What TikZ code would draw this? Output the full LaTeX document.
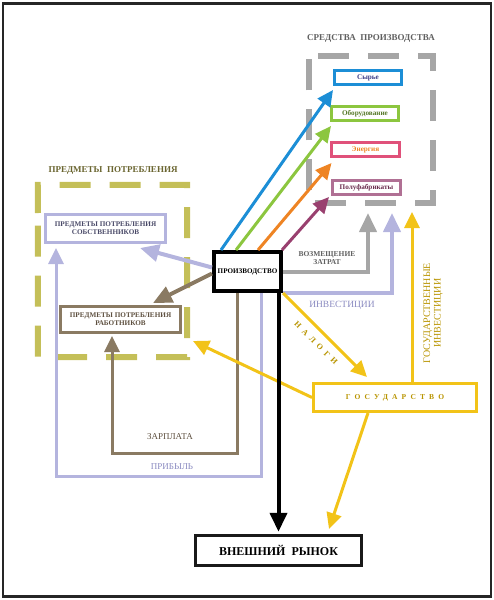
\documentclass[tikz,border=0pt]{standalone}
\usepackage{fontspec}
\setmainfont{Liberation Serif}
\newfontfamily\widefont[LetterSpace=55]{Liberation Serif}
\usetikzlibrary{arrows.meta,calc}
\definecolor{blueA}{HTML}{1C8ED6}
\definecolor{greenA}{HTML}{8CC63F}
\definecolor{orangeA}{HTML}{EE8424}
\definecolor{pinkA}{HTML}{E0517A}
\definecolor{purpleA}{HTML}{99406F}
\definecolor{mauveA}{HTML}{B07094}
\definecolor{greyA}{HTML}{A6A6A6}
\definecolor{lavA}{HTML}{B4B4DE}
\definecolor{yellowA}{HTML}{F2C318}
\definecolor{brownA}{HTML}{8A7A62}
\definecolor{oliveA}{HTML}{C4BF58}
\definecolor{txtgold}{HTML}{B89400}
\definecolor{txtlav}{HTML}{8A8AC0}
\definecolor{txtbrown}{HTML}{5E5040}
\definecolor{txtgrey}{HTML}{606060}
\definecolor{txtolive}{HTML}{6A6530}
\definecolor{txtslate}{HTML}{4A4A68}
\tikzset{
  box/.style={draw, line width=3pt, inner sep=0pt, align=center, font=\bfseries\fontsize{7.2}{8}\selectfont},
  grp/.style={line width=6pt, dash pattern=on 31pt off 19pt},
  conn/.style={line width=3pt, -{Triangle[length=16pt,width=15pt]}},
  wconn/.style={line width=4pt, -{Triangle[length=19pt,width=17pt]}},
  lbl/.style={inner sep=0pt, align=center}
}
\begin{document}
\begin{tikzpicture}[x=1pt,y=-1pt]
\useasboundingbox (0,0) rectangle (494,600);
\draw[line width=2.5pt, color=black!85] (3,3.5) rectangle (491,596.5);

% groups
\node[inner sep=0pt, minimum width=124pt, minimum height=147pt] (mp) at (371,129.5) {};
\draw[grp, greyA, dash phase=41pt] (mp.north west) -- (mp.north east) -- (mp.south east) -- (mp.south west) -- cycle;
\node[lbl, font=\bfseries\fontsize{9}{10}\selectfont, text=txtgrey] (mpt) at (371,38) {СРЕДСТВА\ \ ПРОИЗВОДСТВА};
\node[inner sep=0pt, minimum width=149pt, minimum height=172pt] (pp) at (112.5,271) {};
\coordinate (ppstart) at (38,213);
\draw[grp, oliveA] (ppstart) -- (pp.north west) -- (pp.north east) -- (pp.south east) -- (pp.south west) -- cycle;
\node[lbl, font=\bfseries\fontsize{9}{10}\selectfont, text=txtolive] (ppt) at (113,170) {ПРЕДМЕТЫ\ \ ПОТРЕБЛЕНИЯ};

% boxes
\node[box, draw=blueA, text=txtslate!80!blue, minimum width=67pt, minimum height=14pt] (syr) at (368,77.5) {Сырье};
\node[box, draw=greenA, text=greenA!60!black, minimum width=67pt, minimum height=14pt] (obor) at (365,113.5) {Оборудование};
\node[box, draw=pinkA, text=orangeA, minimum width=68pt, minimum height=14pt] (energ) at (365.5,149.5) {Энергия};
\node[box, draw=mauveA, text=purpleA!70!black, minimum width=68pt, minimum height=14pt] (polu) at (366.5,187.5) {Полуфабрикаты};
\node[box, draw=black, line width=4pt, minimum width=67pt, minimum height=39pt, font=\bfseries\fontsize{7.1}{8}\selectfont] (prod) at (247.5,271.5) {ПРОИЗВОДСТВО};
\node[box, draw=lavA, text=txtslate, minimum width=120pt, minimum height=28pt] (sobst) at (105.5,228.5) {ПРЕДМЕТЫ\ ПОТРЕБЛЕНИЯ\\СОБСТВЕННИКОВ};
\node[box, draw=brownA, text=txtbrown, minimum width=120pt, minimum height=26pt] (rabot) at (120.5,319.5) {ПРЕДМЕТЫ\ ПОТРЕБЛЕНИЯ\\РАБОТНИКОВ};
\node[box, draw=yellowA, text=txtgold, minimum width=163pt, minimum height=28pt, font=\bfseries\widefont\fontsize{7.5}{9}\selectfont] (gos) at (395,397.5) {ГОСУДАРСТВО};
\node[box, draw=black!90, line width=3.5pt, minimum width=166pt, minimum height=30pt, font=\bfseries\fontsize{12}{14}\selectfont] (rynok) at (278.5,550.5) {ВНЕШНИЙ\ \ РЫНОК};

% arrow ends
\coordinate (tz) at (368,213);
\coordinate (ti) at (392,213);
\coordinate (tg) at (412,212);
\coordinate (tn) at (367,377);
\coordinate (tr) at (193,341);
\coordinate (ts) at (140,248);
\coordinate (tw) at (153,303);
\coordinate (tm) at (329,529);
\coordinate (zc) at (112,453);
\coordinate (pc) at (56,476);

% arrows to means of production
\draw[conn, blueA] ([xshift=9pt]prod.north west) -- ([yshift=-4pt]syr.south west);
\draw[conn, greenA] ([xshift=24pt]prod.north west) -- ([xshift=1pt,yshift=-4pt]obor.south west);
\draw[conn, orangeA] ([xshift=46pt]prod.north west) -- ([xshift=1.5pt,yshift=-5pt]energ.south west);
\draw[conn, purpleA] ([xshift=-1pt]prod.north east) -- ([xshift=-2pt,yshift=-1pt]polu.south west);

\draw[wconn, greyA] (prod.east) -| (tz);
\draw[wconn, lavA] (prod.south east) -| (ti);
\draw[conn, yellowA] ([xshift=17pt]gos.north) -- (tg);

% to consumption
\draw[wconn, lavA] ([yshift=4pt]prod.west) -- (ts);
\draw[wconn, brownA] ([yshift=-2pt]prod.west) -- (tw);
\draw[conn, brownA] ([xshift=-10.5pt]prod.south) |- (zc) -- ([yshift=-2pt]zc |- rabot.south);
\draw[conn, lavA] ([xshift=13.5pt]prod.south) |- (pc) -- ([yshift=-4pt]pc |- sobst.south);

% state
\draw[conn, yellowA] (prod.south east) -- (tn);
\draw[conn, yellowA] (gos.west) -- (tr);
\draw[conn, yellowA] ([xshift=-27pt]gos.south) -- (tm);
\draw[wconn, black] (prod.south -| rynok.north) -- ([yshift=2pt]rynok.north);

% labels
\node[lbl, font=\bfseries\fontsize{7.5}{8.5}\selectfont, text=txtgrey] (lz) at (327,258) {ВОЗМЕЩЕНИЕ\\ЗАТРАТ};
\node[lbl, font=\fontsize{9.5}{11}\selectfont, text=txtlav] (li) at (342,305) {ИНВЕСТИЦИИ};
\node[lbl, font=\bfseries\widefont\fontsize{8}{9}\selectfont, text=txtgold, rotate=-45] (ln) at (316,343) {НАЛОГИ};
\node[lbl, font=\fontsize{10}{10.5}\selectfont, text=txtgold, rotate=90] (lg) at (433,313) {ГОСУДАРСТВЕННЫЕ\\ИНВЕСТИЦИИ};
\node[lbl, font=\fontsize{9}{10}\selectfont, text=txtbrown] (lzp) at (170,437) {ЗАРПЛАТА};
\node[lbl, font=\fontsize{9}{10}\selectfont, text=txtlav] (lpr) at (172,467) {ПРИБЫЛЬ};
\end{tikzpicture}
\end{document}
